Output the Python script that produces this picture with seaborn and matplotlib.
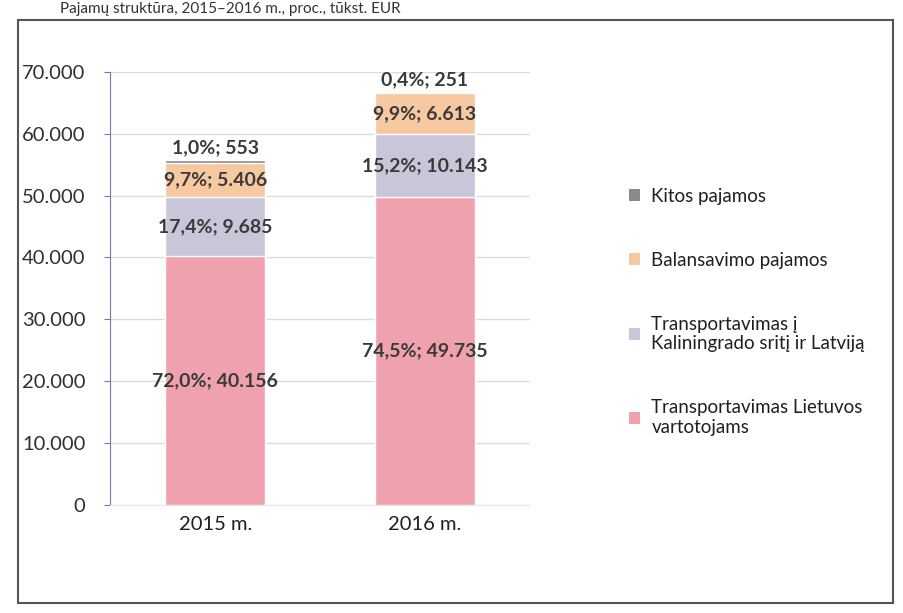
import matplotlib
matplotlib.use('Agg')
import matplotlib.pyplot as plt
from matplotlib.patches import Patch, Rectangle
import numpy as np
import seaborn as sns

# data (thousand EUR)
years = ['2015 m.', '2016 m.']
series = ['Transportavimas Lietuvos\nvartotojams',
          'Transportavimas į\nKaliningrado sritį ir Latviją',
          'Balansavimo pajamos',
          'Kitos pajamos']
lietuvos = [40156, 49735]
kaliningrado = [9685, 10143]
balansavimo = [5406, 6613]
kitos = [553, 251]
colors = ['#efa2ad', '#c9c6d9', '#f6c9a0', '#8a8a8a']
title = 'Pajamų struktūra, 2015–2016 m., proc., tūkst. EUR'

sns.set_style('white')
plt.rcParams['font.family'] = ['Lato', 'DejaVu Sans']

values = np.array([lietuvos, kaliningrado, balansavimo, kitos], dtype=float)
cum = values.cumsum(axis=0)
totals = cum[-1]

fig = plt.figure(figsize=(9.04, 6.13), dpi=100)
ax = fig.add_axes([0.122, 0.176, 0.464, 0.707])

# stacked bars: draw cumulative heights, tallest first
for i in range(len(series) - 1, -1, -1):
    sns.barplot(x=years, y=cum[i], color=colors[i], width=0.48,
                saturation=1, ax=ax, zorder=2)

ax.set_ylim(0, 70000)
ax.set_xlim(-0.5, 1.5)
ax.set_yticks(np.arange(0, 70001, 10000))
ax.set_yticklabels(['0' if t == 0 else f'{t:,}'.replace(',', '.')
                    for t in range(0, 70001, 10000)], fontsize=14.5,
                   color='#2f2f2f')
ax.tick_params(axis='y', pad=14, length=4, color='#7a78a8', left=True)
ax.tick_params(axis='x', labelsize=14.5, labelcolor='#1f1f1f', pad=8,
               length=0)
ax.yaxis.grid(True, color='#dcdcdc', lw=1, zorder=0)
ax.set_axisbelow(True)
for side in ['top', 'right']:
    ax.spines[side].set_visible(False)
ax.spines['left'].set_color('#7a78a8')
ax.spines['bottom'].set_color('#e6e6e6')
ax.set_xlabel('')
ax.set_ylabel('')

# data labels: percent; value
for j in range(len(years)):
    for i in range(len(series)):
        pct = values[i, j] / totals[j] * 100
        txt = (f'{pct:.1f}%'.replace('.', ',') + '; '
               + f'{int(values[i, j]):,}'.replace(',', '.'))
        if i == len(series) - 1:
            y = totals[j] + 1900
        else:
            y = cum[i, j] - values[i, j] / 2
        ax.text(j, y, txt, ha='center', va='center', fontsize=14,
                fontweight='bold', color='#3a3a3a', zorder=5)

handles = [Patch(facecolor=colors[i], edgecolor='none')
           for i in range(len(series) - 1, -1, -1)]
fig.legend(handles, series[::-1], loc='upper left',
           bbox_to_anchor=(0.677, 0.721), frameon=False, fontsize=13.5,
           handlelength=0.6, handleheight=0.6, handletextpad=0.6,
           labelspacing=2.5, labelcolor='#1f1f1f')

# scanned frame and title
fig.patches.append(Rectangle((0.02, 0.017), 0.968, 0.95,
                             transform=fig.transFigure, fill=False,
                             edgecolor='#555555', lw=1.5))
fig.text(0.066, 0.985, title, ha='left', va='center', fontsize=11,
         color='#333333')

fig.savefig('out.png', dpi=100)
